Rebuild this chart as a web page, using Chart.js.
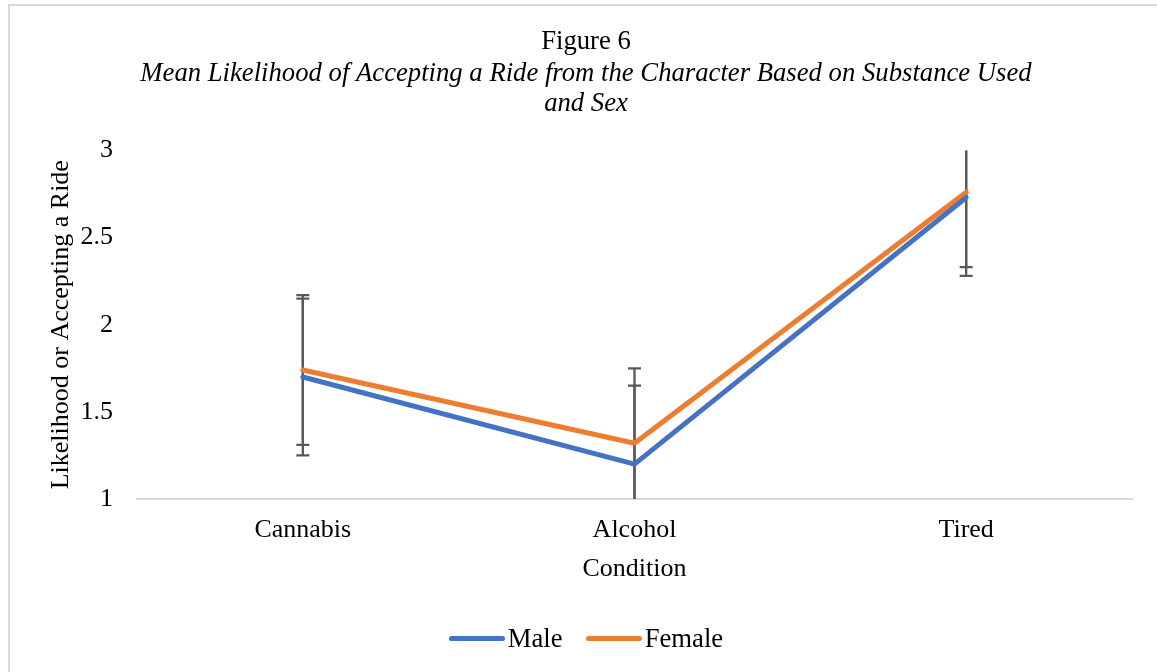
<!DOCTYPE html>
<html>
<head>
<meta charset="utf-8">
<script src="https://cdn.jsdelivr.net/npm/chart.js@4/dist/chart.umd.min.js"></script>
<style>
  html, body { margin: 0; padding: 0; background: #fff; overflow: hidden; }
  #frame { position: absolute; left: 8px; top: 4px; width: 1180px; height: 700px;
           border-left: 2px solid #d9d9d9; border-top: 2px solid #d9d9d9; }
  #wrap { position: absolute; left: 0; top: 0; width: 1157px; height: 672px; }
  #legend { position: absolute; left: 0; top: 623px; width: 1172px; height: 30px;
            display: flex; justify-content: center; align-items: center;
            font-family: "Liberation Serif", "Times New Roman", serif; font-size: 26.7px; color: #000; }
  .item { display: flex; align-items: center; margin: 0 11.5px; }
  .swatch { width: 56px; height: 5px; border-radius: 3px; margin-right: 3px; }
</style>
</head>
<body>
<div id="frame"></div>
<div id="wrap"><canvas id="chart" width="1157" height="672"></canvas></div>
<div id="legend"></div>
<script>
// Conditions on the x axis
const conditions = ['Cannabis', 'Alcohol', 'Tired'];
// Mean likelihood per condition
const maleMeans = [1.70, 1.20, 2.73];
const femaleMeans = [1.74, 1.32, 2.76];
// Standard deviation error amounts
const maleErrors = [0.45, 0.45, 0.45];
const femaleErrors = [0.43, 0.43, 0.43];
// Y axis tick range
const yMin = 1, yMax = 3, yStep = 0.5;

const serif = '"Liberation Serif", "Times New Roman", serif';
const errorSets = [maleErrors, femaleErrors];

// Draws vertical error bars with caps, clipped to the plot area
const errorBars = {
  id: 'errorBars',
  beforeDatasetsDraw(chart) {
    const { ctx, chartArea: a, scales: { x, y } } = chart;
    ctx.save();
    ctx.beginPath();
    ctx.rect(a.left, a.top, a.right - a.left, a.bottom - a.top);
    ctx.clip();
    ctx.strokeStyle = '#595959';
    ctx.lineWidth = 2.3;
    chart.data.datasets.forEach((ds, d) => {
      const errs = errorSets[d];
      ds.data.forEach((v, i) => {
        const px = x.getPixelForValue(i);
        const hi = y.getPixelForValue(v + errs[i]);
        const lo = y.getPixelForValue(v - errs[i]);
        ctx.beginPath();
        ctx.moveTo(px, hi); ctx.lineTo(px, lo);
        ctx.moveTo(px - 6.5, hi); ctx.lineTo(px + 6.5, hi);
        ctx.moveTo(px - 6.5, lo); ctx.lineTo(px + 6.5, lo);
        ctx.stroke();
      });
    });
    ctx.restore();
  }
};

const chart = new Chart(document.getElementById('chart'), {
  type: 'line',
  data: {
    labels: conditions,
    datasets: [
      { label: 'Male', data: maleMeans, borderColor: '#4472C4', backgroundColor: '#4472C4' },
      { label: 'Female', data: femaleMeans, borderColor: '#ED7D31', backgroundColor: '#ED7D31' }
    ]
  },
  options: {
    responsive: false,
    animation: false,
    events: [],
    layout: { padding: { left: 40, right: 25, top: 0, bottom: 83 } },
    elements: {
      line: { borderWidth: 5, tension: 0, borderCapStyle: 'round', borderJoinStyle: 'round', fill: false },
      point: { radius: 0, hoverRadius: 0 }
    },
    plugins: {
      legend: { display: false },
      tooltip: { enabled: false },
      title: {
        display: true,
        text: 'Figure 6',
        color: '#000',
        font: { family: serif, size: 26.7, weight: 'normal', lineHeight: 1.2 },
        padding: { top: 26, bottom: 0 }
      },
      subtitle: {
        display: true,
        text: ['Mean Likelihood of Accepting a Ride from the Character Based on Substance Used', 'and Sex'],
        color: '#000',
        font: { family: serif, size: 26.7, style: 'italic', weight: 'normal', lineHeight: 30 / 26.7 },
        padding: { top: 1.4, bottom: 31 }
      }
    },
    scales: {
      x: {
        offset: true,
        grid: { display: false, drawTicks: false },
        border: { display: true, color: '#d9d9d9', width: 2 },
        ticks: { color: '#000', padding: 15.4, font: { family: serif, size: 26, lineHeight: 1.2 } },
        title: {
          display: true, text: 'Condition', color: '#000',
          font: { family: serif, size: 26, lineHeight: 1.2 },
          padding: { top: 0, bottom: 4.4 }
        },
        afterFit(scale) { scale.height = 90; }
      },
      y: {
        min: yMin, max: yMax,
        grid: { display: false, drawTicks: false },
        border: { display: false },
        ticks: {
          stepSize: yStep, color: '#000', padding: 24,
          font: { family: serif, size: 26, lineHeight: 1.2 },
          callback: v => String(v)
        },
        title: {
          display: true, text: 'Likelihood or Accepting a Ride', color: '#000',
          font: { family: serif, size: 26, lineHeight: 1.2 },
          padding: { top: 5.4, bottom: 0 }
        },
        afterFit(scale) { scale.width = 97; }
      }
    }
  },
  plugins: [errorBars]
});

// HTML legend built from the chart's datasets
const legend = document.getElementById('legend');
chart.data.datasets.forEach(ds => {
  const item = document.createElement('div');
  item.className = 'item';
  const sw = document.createElement('span');
  sw.className = 'swatch';
  sw.style.background = ds.borderColor;
  const txt = document.createElement('span');
  txt.textContent = ds.label;
  item.appendChild(sw);
  item.appendChild(txt);
  legend.appendChild(item);
});
</script>
</body>
</html>
